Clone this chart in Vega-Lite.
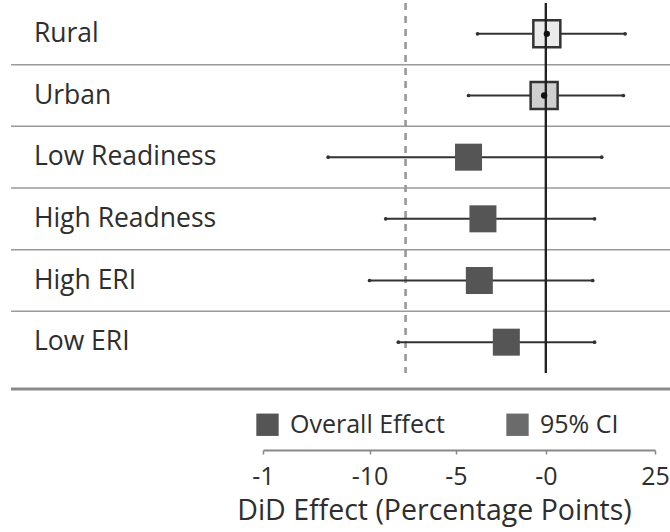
{
  "$schema": "https://vega.github.io/schema/vega-lite/v6.json",
  "width": 392,
  "height": 370,
  "autosize": {"type": "none"},
  "padding": {"left": 263, "top": 3, "right": 15, "bottom": 159},
  "background": "white",
  "config": {
    "view": {"stroke": null},
    "font": "Open Sans"
  },
  "data": {
    "values": [
      {"row": "Rural", "est": 0.05, "lo": -3.8, "hi": 4.4},
      {"row": "Urban", "est": -0.1, "lo": -4.3, "hi": 4.3},
      {"row": "Low Readiness", "est": -4.3, "lo": -12.1, "hi": 3.1},
      {"row": "High Readness", "est": -3.5, "lo": -8.9, "hi": 2.7},
      {"row": "High ERI", "est": -3.7, "lo": -9.8, "hi": 2.6},
      {"row": "Low ERI", "est": -2.2, "lo": -8.2, "hi": 2.7}
    ]
  },
  "encoding": {
    "y": {
      "field": "row",
      "type": "nominal",
      "sort": null,
      "axis": null,
      "scale": {"paddingInner": 0, "paddingOuter": 0}
    }
  },
  "layer": [
    {
      "transform": [{"filter": "datum.row != 'Low ERI'"}],
      "mark": {"type": "rule", "color": "#9a9a9a", "strokeWidth": 1.5},
      "encoding": {
        "y": {"field": "row", "type": "nominal", "sort": null, "bandPosition": 1},
        "x": {"datum": -29.72, "type": "quantitative"},
        "x2": {"datum": 6.9}
      }
    },
    {
      "transform": [{"filter": "datum.row == 'Low ERI'"}],
      "mark": {"type": "rule", "color": "#8a8a8a", "strokeWidth": 3, "yOffset": 16},
      "encoding": {
        "y": {"field": "row", "type": "nominal", "sort": null, "bandPosition": 1},
        "x": {"datum": -29.72, "type": "quantitative"},
        "x2": {"datum": 6.9}
      }
    },
    {
      "mark": {"type": "rule", "color": "#9a9a9a", "strokeWidth": 1.5, "strokeDash": [7, 6]},
      "encoding": {
        "x": {"datum": -7.8, "type": "quantitative"},
        "y": null
      }
    },
    {
      "mark": {"type": "text", "align": "left", "baseline": "middle", "fontSize": 26.5, "color": "#2e2e2e", "font": "Open Sans"},
      "encoding": {
        "x": {"datum": -28.45, "type": "quantitative"},
        "text": {"field": "row"}
      }
    },
    {
      "mark": {"type": "rule", "color": "#333333", "strokeWidth": 2},
      "encoding": {
        "x": {
          "field": "lo",
          "type": "quantitative",
          "scale": {"domain": [-15.72, 6.06], "nice": false, "zero": false},
          "axis": {
            "values": [-15.72, -9.8, -5, 0, 6.06],
            "labelExpr": "datum.value < -15 ? '-1' : datum.value < -9 ? '-10' : datum.value < -4 ? '-5' : datum.value < 1 ? '-0' : '25'",
            "labelFlush": false,
            "labelOverlap": false,
            "grid": false,
            "offset": 77,
            "domainColor": "#888888",
            "domainWidth": 2,
            "tickColor": "#888888",
            "tickSize": 4,
            "tickWidth": 1.5,
            "labelFontSize": 25,
            "labelColor": "#2e2e2e",
            "labelFont": "Open Sans",
            "labelPadding": 10,
            "title": "DiD Effect (Percentage Points)",
            "titleFontSize": 28.5,
            "titleFontWeight": "normal",
            "titleColor": "#2e2e2e",
            "titleFont": "Open Sans",
            "titlePadding": 7,
            "titleAlign": "center",
            "titleX": 171
          }
        },
        "x2": {"field": "hi"}
      }
    },
    {
      "mark": {"type": "point", "shape": "circle", "filled": true, "size": 14, "color": "#333333", "opacity": 1},
      "encoding": {"x": {"field": "lo", "type": "quantitative"}}
    },
    {
      "mark": {"type": "point", "shape": "circle", "filled": true, "size": 14, "color": "#333333", "opacity": 1},
      "encoding": {"x": {"field": "hi", "type": "quantitative"}}
    },
    {
      "transform": [{"filter": "datum.row != 'Rural' && datum.row != 'Urban'"}],
      "mark": {"type": "point", "shape": "square", "filled": true, "size": 729, "opacity": 1},
      "encoding": {
        "x": {"field": "est", "type": "quantitative"},
        "fill": {
          "datum": "Overall Effect",
          "type": "nominal",
          "scale": {"domain": ["Overall Effect", "95% CI"], "range": ["#555555", "#6b6b6b"]},
          "legend": {
            "orient": "none",
            "legendX": -8,
            "legendY": 409,
            "direction": "horizontal",
            "columns": 2,
            "columnPadding": 60,
            "title": null,
            "symbolType": "square",
            "symbolSize": 500,
            "symbolStrokeWidth": 0,
            "symbolOpacity": 1,
            "labelFontSize": 25,
            "labelFont": "Open Sans",
            "labelColor": "#2e2e2e",
            "labelOffset": 10
          }
        }
      }
    },
    {
      "transform": [{"filter": "datum.row == 'Rural' || datum.row == 'Urban'"}],
      "mark": {"type": "point", "shape": "square", "filled": false, "size": 729, "stroke": "#333333", "strokeWidth": 2.5, "opacity": 1},
      "encoding": {
        "x": {"field": "est", "type": "quantitative"},
        "fill": {"condition": {"test": "datum.row == 'Urban'", "value": "#cfcfcf"}, "value": "#ebebeb"}
      }
    },
    {
      "mark": {"type": "rule", "color": "#222222", "strokeWidth": 2},
      "encoding": {
        "x": {"datum": 0, "type": "quantitative"},
        "y": null
      }
    },
    {
      "transform": [{"filter": "datum.row == 'Rural' || datum.row == 'Urban'"}],
      "mark": {"type": "point", "shape": "circle", "filled": true, "size": 40, "color": "#111111", "opacity": 1},
      "encoding": {"x": {"field": "est", "type": "quantitative"}}
    }
  ]
}
